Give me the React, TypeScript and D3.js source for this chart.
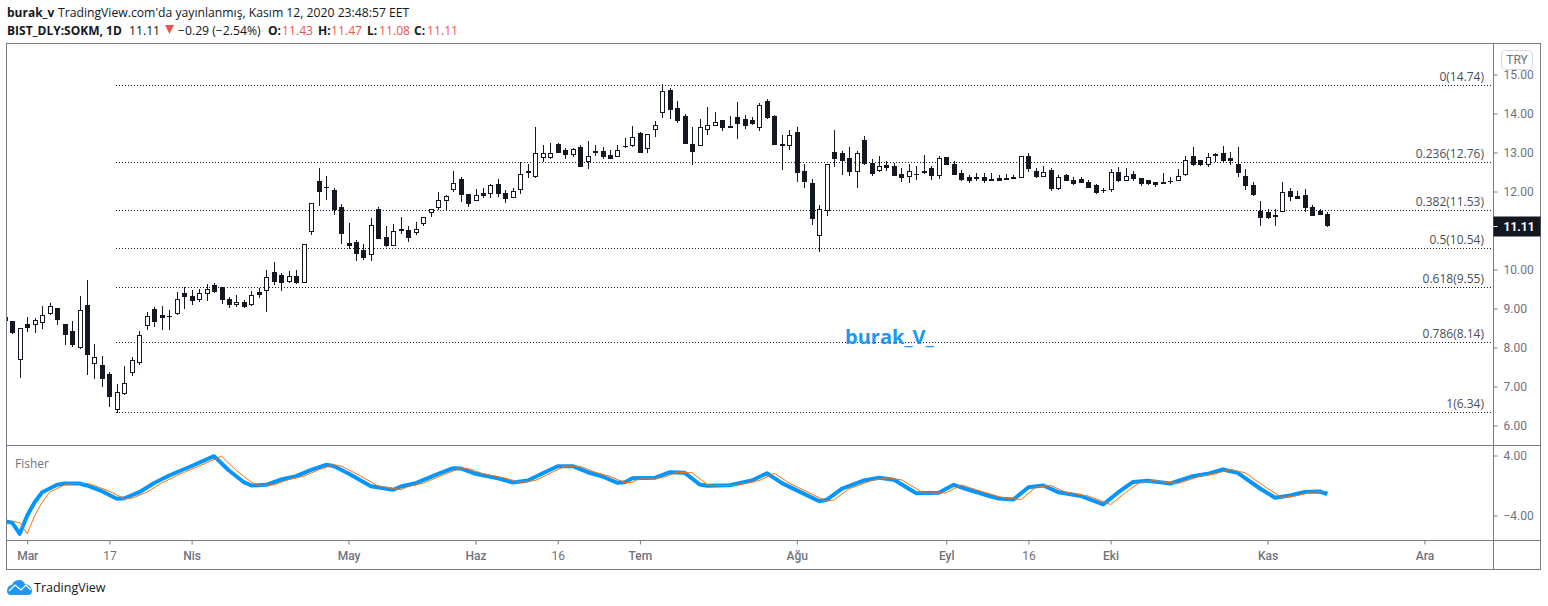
import React, { useEffect, useRef } from 'react';
import * as d3 from 'd3';

const WIDTH = 1548;
const HEIGHT = 606;

// daily bars, first one is cut by the left border
const opens = [
  8.79, 8.68, 7.70, 8.60, 8.61, 8.66, 8.89, 9.01, 8.60, 8.42, 8.02, 9.09, 7.59, 7.55, 7.32, 6.43, 6.84, 7.38, 7.64, 8.57,
  8.99, 8.83, 8.81, 8.89, 9.40, 9.32, 9.25, 9.41, 9.60, 9.55, 9.24, 9.11, 9.17, 9.12, 9.42, 9.48, 9.94, 9.86, 9.71, 9.83,
  9.69, 10.99, 12.27, 12.12, 12.04, 11.60, 10.68, 10.71, 10.50, 10.40, 11.55, 10.83, 10.63, 11.04, 11.01, 10.97, 11.20, 11.48, 11.59, 11.77,
  12.07, 12.32, 11.94, 11.77, 11.96, 11.97, 12.19, 11.96, 11.87, 12.07, 12.53, 12.41, 12.89, 12.89, 13.22, 13.06, 12.97, 13.14, 12.77, 13.04,
  13.04, 12.94, 12.92, 13.17, 13.18, 13.50, 13.12, 13.59, 14.05, 14.60, 14.14, 13.94, 13.22, 13.20, 13.59, 13.71, 13.83, 13.68, 13.91, 13.86,
  13.83, 13.66, 14.32, 13.94, 13.22, 13.18, 13.53, 12.53, 12.22, 10.89, 11.53, 13.01, 12.99, 12.86, 12.53, 13.32, 12.73, 12.56, 12.68, 12.65,
  12.45, 12.41, 12.45, 12.53, 12.60, 12.43, 12.89, 12.71, 12.47, 12.37, 12.37, 12.37, 12.32, 12.35, 12.35, 12.37, 12.38, 12.91, 12.53, 12.41,
  12.55, 12.09, 12.42, 12.30, 12.32, 12.24, 12.17, 12.04, 12.07, 12.50, 12.30, 12.45, 12.35, 12.30, 12.24, 12.24, 12.27, 12.30, 12.46, 12.91,
  12.81, 12.71, 12.96, 12.99, 12.86, 12.71, 12.40, 12.17, 11.50, 11.47, 11.40, 11.51, 12.01, 11.88, 11.91, 11.60, 11.50, 11.43,
];
const highs = [
  8.82, 8.68, 8.49, 8.78, 8.76, 9.07, 9.13, 9.01, 8.60, 8.68, 9.32, 9.73, 8.09, 7.78, 7.37, 7.07, 7.53, 7.76, 8.42, 8.91,
  9.04, 9.07, 8.96, 9.42, 9.55, 9.47, 9.49, 9.63, 9.65, 9.55, 9.30, 9.35, 9.22, 9.45, 9.53, 9.99, 10.19, 9.91, 9.96, 9.99,
  10.65, 11.70, 12.60, 12.40, 12.09, 11.68, 11.19, 10.76, 10.65, 11.32, 11.60, 11.12, 11.17, 11.35, 11.12, 11.22, 11.34, 11.54, 11.99, 11.91,
  12.53, 12.37, 11.94, 12.06, 12.09, 12.19, 12.32, 12.04, 12.09, 12.76, 12.71, 13.65, 13.19, 13.24, 13.24, 13.12, 13.12, 13.19, 13.30, 13.19,
  13.14, 13.06, 13.19, 13.37, 13.68, 13.53, 13.47, 13.81, 14.76, 14.65, 14.32, 13.99, 13.65, 13.86, 14.17, 14.04, 13.83, 13.94, 14.30, 13.96,
  13.91, 14.27, 14.37, 13.96, 13.45, 13.58, 13.65, 12.71, 12.32, 11.65, 12.70, 13.58, 13.04, 13.14, 13.04, 13.42, 12.83, 12.91, 12.78, 12.73,
  12.60, 12.71, 12.65, 12.94, 12.65, 12.91, 12.89, 12.78, 12.55, 12.42, 12.47, 12.47, 12.47, 12.42, 12.45, 12.42, 12.90, 12.99, 12.60, 12.65,
  12.60, 12.42, 12.45, 12.37, 12.37, 12.30, 12.19, 12.09, 12.58, 12.63, 12.60, 12.53, 12.35, 12.30, 12.24, 12.47, 12.37, 12.58, 12.91, 13.14,
  12.81, 12.99, 12.99, 13.17, 13.01, 13.14, 12.58, 12.24, 11.76, 11.55, 11.55, 12.24, 12.09, 12.01, 12.06, 11.65, 11.55, 11.47,
];
const lows = [
  8.66, 8.35, 7.22, 8.40, 8.37, 8.47, 8.83, 8.58, 8.07, 8.01, 7.96, 7.30, 7.19, 6.99, 6.47, 6.32, 6.78, 7.27, 7.55, 8.45,
  8.53, 8.45, 8.45, 8.83, 8.99, 9.09, 9.17, 9.19, 9.40, 9.12, 9.01, 9.04, 9.01, 9.07, 9.27, 8.91, 9.60, 9.45, 9.65, 9.63,
  9.65, 10.88, 11.63, 11.78, 11.40, 10.65, 10.53, 10.22, 10.24, 10.22, 10.78, 10.58, 10.60, 10.91, 10.71, 10.89, 11.12, 11.35, 11.53, 11.53,
  11.99, 11.73, 11.60, 11.77, 11.83, 11.83, 11.86, 11.70, 11.87, 11.94, 12.35, 12.35, 12.76, 12.83, 12.99, 12.83, 12.89, 12.63, 12.58, 12.91,
  12.83, 12.83, 12.89, 13.12, 13.14, 12.99, 12.99, 13.40, 13.88, 13.86, 13.76, 13.22, 12.68, 13.20, 13.45, 13.71, 13.55, 13.63, 13.35, 13.60,
  13.70, 13.55, 13.86, 13.19, 12.55, 13.06, 12.24, 12.09, 11.14, 10.45, 11.37, 12.63, 12.42, 12.40, 12.09, 12.68, 12.40, 12.50, 12.53, 12.40,
  12.24, 12.22, 12.30, 12.45, 12.30, 12.32, 12.68, 12.42, 12.27, 12.22, 12.27, 12.22, 12.27, 12.27, 12.30, 12.32, 12.35, 12.50, 12.35, 12.37,
  12.01, 12.04, 12.27, 12.17, 12.22, 12.09, 11.94, 11.96, 11.99, 12.24, 12.30, 12.27, 12.14, 12.17, 12.12, 12.19, 12.19, 12.30, 12.40, 12.65,
  12.65, 12.63, 12.76, 12.76, 12.68, 12.37, 12.04, 11.88, 11.12, 11.30, 11.12, 11.51, 11.76, 11.81, 11.47, 11.37, 11.40, 11.08,
];
const closes = [
  8.68, 8.38, 8.49, 8.50, 8.70, 8.83, 9.06, 8.71, 8.32, 8.07, 8.95, 7.81, 7.75, 7.19, 6.73, 6.85, 7.08, 7.67, 8.31, 8.80,
  8.65, 8.76, 8.79, 9.24, 9.30, 9.19, 9.41, 9.49, 9.42, 9.22, 9.09, 9.16, 9.04, 9.34, 9.35, 9.80, 9.68, 9.65, 9.83, 9.65,
  10.65, 11.70, 11.99, 12.09, 11.53, 10.91, 10.60, 10.40, 10.30, 11.13, 10.78, 10.60, 11.00, 10.99, 10.81, 11.03, 11.34, 11.54, 11.77, 11.88,
  12.21, 11.91, 11.68, 11.90, 11.88, 12.16, 11.94, 11.81, 12.01, 12.44, 12.47, 13.00, 12.98, 13.00, 12.99, 12.94, 13.08, 12.63, 12.90, 12.99,
  12.89, 12.83, 13.06, 13.14, 13.41, 12.99, 13.47, 13.70, 14.57, 14.09, 13.81, 13.22, 13.01, 13.65, 13.70, 13.77, 13.63, 13.63, 13.73, 13.68,
  13.73, 14.21, 13.88, 13.19, 13.17, 13.44, 12.47, 12.24, 11.30, 11.54, 12.70, 12.83, 12.78, 12.50, 13.00, 12.71, 12.45, 12.65, 12.60, 12.40,
  12.35, 12.52, 12.42, 12.47, 12.40, 12.85, 12.68, 12.42, 12.30, 12.27, 12.32, 12.27, 12.27, 12.27, 12.30, 12.32, 12.90, 12.58, 12.37, 12.49,
  12.06, 12.36, 12.27, 12.19, 12.22, 12.09, 11.96, 12.01, 12.49, 12.27, 12.39, 12.32, 12.19, 12.19, 12.17, 12.19, 12.24, 12.39, 12.80, 12.68,
  12.68, 12.88, 12.91, 12.78, 12.78, 12.47, 12.14, 11.91, 11.32, 11.32, 11.35, 12.00, 11.86, 11.81, 11.58, 11.37, 11.40, 11.11,
];

// Fisher line at the bars where it turns, the trigger is the same line one bar later
const fisherBars = [
  0, 1, 2, 3, 4, 5, 7, 8, 10, 11, 13, 15, 16, 18, 20, 22, 25, 28, 30, 32, 33, 35, 37, 39, 41, 43, 44, 46, 49, 52, 53, 55, 58, 60, 61, 63,
  66, 68, 70, 72, 74, 76, 78, 80, 82, 83, 84, 87, 89, 91, 93, 94, 97, 100, 102, 104, 109, 110, 112, 115, 117, 119, 122, 125, 127, 129, 132,
  133, 135, 137, 139, 141, 144, 147, 149, 151, 153, 156, 159, 161, 163, 165, 168, 170, 172, 174, 176, 177,
];
const fisherValues = [
  -4.76, -4.97, -6.44, -4.0, -2.23, -0.89, 0.09, 0.27, 0.27, 0, -0.76, -1.77, -1.7, -0.89, 0.33, 1.33, 2.6, 3.91, 2.0, 0.44, 0, 0.09, 0.8, 1.24, 2.09, 2.76, 2.6, 1.6, -0.09, -0.57, -0.13, 0.31, 1.56, 2.31, 2.27, 1.56,
  0.97, 0.4, 0.67, 1.64, 2.57, 2.57, 1.77, 1.2, 0.36, 0.44, 0.97, 1.03, 1.77, 1.69, 0.13, -0.04, 0.04, 0.67, 1.64, 0.31, -2.09, -1.91, -0.44, 0.67, 1.03, 0.76, -1.03, -0.97, 0.09, -0.57, -1.47,
  -1.73, -1.87, -0.23, 0, -0.89, -1.4, -2.53, -0.93, 0.47, 0.63, 0.27, 1.24, 1.56, 2.13, 1.69, -0.4, -1.64, -1.33, -0.87, -0.8, -1.16,
];

const fibRatios = ['0', '0.236', '0.382', '0.5', '0.618', '0.786', '1'];
const fibPrices = [14.74, 12.76, 11.53, 10.54, 9.55, 8.14, 6.34];

const priceTicks = [15, 14, 13, 12, 10, 9, 8, 7, 6];
const fisherTicks = [4, -4];
const timeTickBars = [3, 14, 25, 46, 63, 74, 85, 106, 126, 137, 148, 169, 190];
const timeTickLabels = ['Mar', '17', 'Nis', 'May', 'Haz', '16', 'Tem', 'Ağu', 'Eyl', '16', 'Eki', 'Kas', 'Ara'];

const lastPrice = 11.11;

const DARK = '#131722';
const BORDER = '#787b86';
const AXIS_TEXT = '#6f727d';
const RED = '#ef5350';
const BLUE = '#0496ff';
const ORANGE = '#ff6d00';
const FONT = '"Open Sans", sans-serif';
const AXIS_FONT = 'Roboto, sans-serif';

const App: React.FC = () => {
  const svgRef = useRef<SVGSVGElement | null>(null);

  useEffect(() => {
    if (!svgRef.current) return;
    const svg = d3.select(svgRef.current);
    svg.selectAll('*').remove();

    const left = 6.5;
    const axisX = 1493.5;
    const right = 1540.5;
    const top = 43.5;
    const paneSplit = 445.5;
    const paneBottom = 540.5;
    const bottom = 569.5;

    const x = d3.scaleLinear().domain([1, 177]).range([12.3, 1327.3]);
    const y = d3.scaleLinear().domain([15, 6]).range([74.5, 425.5]);
    const yFisher = d3.scaleLinear().domain([4, -4]).range([455.5, 515.5]);

    svg.append('rect').attr('width', WIDTH).attr('height', HEIGHT).attr('fill', '#fff');

    const defs = svg.append('defs');
    defs.append('clipPath').attr('id', 'main-clip').append('rect')
      .attr('x', left).attr('y', top).attr('width', axisX - left).attr('height', paneSplit - top);
    defs.append('clipPath').attr('id', 'fisher-clip').append('rect')
      .attr('x', left).attr('y', paneSplit).attr('width', axisX - left).attr('height', paneBottom - paneSplit);

    // fib levels
    const fib = svg.append('g');
    fibPrices.forEach((p, i) => {
      const ly = Math.round(y(p)) + 0.5;
      fib.append('line')
        .attr('x1', 116).attr('x2', 1491).attr('y1', ly).attr('y2', ly)
        .attr('stroke', DARK).attr('stroke-width', 1).attr('stroke-dasharray', '1,2');
      fib.append('text')
        .attr('x', 1484).attr('y', ly - 4.5)
        .attr('text-anchor', 'end')
        .attr('font-family', FONT).attr('font-size', 12).attr('fill', '#4a4e5a')
        .text(`${fibRatios[i]}(${p.toFixed(2)})`);
    });

    // candles
    const candles = svg.append('g').attr('clip-path', 'url(#main-clip)');
    opens.forEach((open, i) => {
      const close = closes[i];
      const cx = Math.round(x(i));
      const yTop = Math.round(y(Math.max(open, close)));
      const yBot = Math.round(y(Math.min(open, close)));
      const up = close > open;
      candles.append('rect')
        .attr('x', cx).attr('width', 1)
        .attr('y', Math.round(y(highs[i])))
        .attr('height', Math.max(1, Math.round(y(lows[i])) - Math.round(y(highs[i]))))
        .attr('fill', DARK);
      if (up) {
        candles.append('rect')
          .attr('x', cx - 1.5).attr('width', 4)
          .attr('y', yTop + 0.5).attr('height', Math.max(1, yBot - yTop))
          .attr('fill', '#fff').attr('stroke', DARK).attr('stroke-width', 1);
      } else {
        candles.append('rect')
          .attr('x', cx - 2).attr('width', 5)
          .attr('y', yTop).attr('height', Math.max(1, yBot - yTop))
          .attr('fill', DARK);
      }
    });

    // watermark
    svg.append('text')
      .attr('x', 845).attr('y', 344)
      .attr('font-family', FONT).attr('font-size', 20).attr('font-weight', 700)
      .attr('fill', '#2196f3')
      .text('burak_V_');

    // fisher pane
    const fisherLine = (shift: number) => d3.line<number>()
      .x((b) => x(b + shift))
      .y((_, i) => yFisher(fisherValues[i]));

    const fisherPane = svg.append('g').attr('clip-path', 'url(#fisher-clip)');
    fisherPane.append('path')
      .attr('d', fisherLine(0)(fisherBars))
      .attr('fill', 'none').attr('stroke', BLUE).attr('stroke-width', 4).attr('stroke-linejoin', 'round');
    fisherPane.append('path')
      .attr('d', fisherLine(1)(fisherBars.slice(0, -1)))
      .attr('fill', 'none').attr('stroke', ORANGE).attr('stroke-width', 1);

    svg.append('text')
      .attr('x', 15).attr('y', 467.5)
      .attr('font-family', FONT).attr('font-size', 12).attr('fill', AXIS_TEXT)
      .text('Fisher');

    // axes
    const styleAxis = (g: d3.Selection<SVGGElement, unknown, null, undefined>) => {
      g.select('.domain').remove();
      g.selectAll('line').attr('stroke', BORDER);
      g.selectAll('text').attr('fill', AXIS_TEXT);
      g.attr('font-family', AXIS_FONT).attr('font-size', 12);
    };

    const priceAxis = svg.append('g').attr('transform', `translate(${axisX},0)`)
      .call(d3.axisRight(y).tickValues(priceTicks).tickSize(4).tickPadding(6).tickFormat((d) => (d as number).toFixed(2)));
    styleAxis(priceAxis);

    const fisherAxis = svg.append('g').attr('transform', `translate(${axisX},0)`)
      .call(d3.axisRight(yFisher).tickValues(fisherTicks).tickSize(4).tickPadding(6)
        .tickFormat((d) => ((d as number) < 0 ? '\u2212' : '') + Math.abs(d as number).toFixed(2)));
    styleAxis(fisherAxis);

    const timeAxis = svg.append('g').attr('transform', `translate(0,${paneBottom})`)
      .call(d3.axisBottom(x.copy().domain([1, 177])).tickValues(timeTickBars).tickSize(4).tickPadding(7)
        .tickFormat((_, i) => timeTickLabels[i]));
    styleAxis(timeAxis);
    timeAxis.selectAll<SVGTextElement, number>('text')
      .attr('font-weight', (_, i) => (/\d/.test(timeTickLabels[i]) ? 400 : 500));

    // frame
    const frame = svg.append('g').attr('stroke', BORDER).attr('fill', 'none').attr('stroke-width', 1);
    frame.append('rect').attr('x', left).attr('y', top).attr('width', right - left).attr('height', bottom - top);
    frame.append('line').attr('x1', axisX).attr('x2', axisX).attr('y1', top).attr('y2', bottom);
    frame.append('line').attr('x1', left).attr('x2', right).attr('y1', paneSplit).attr('y2', paneSplit);
    frame.append('line').attr('x1', left).attr('x2', right).attr('y1', paneBottom).attr('y2', paneBottom);

    // currency button
    svg.append('rect')
      .attr('x', 1501.5).attr('y', 50.5).attr('width', 31).attr('height', 19).attr('rx', 4)
      .attr('fill', '#fff').attr('fill-opacity', 0.85).attr('stroke', '#d6d8e0');
    svg.append('text')
      .attr('x', 1517).attr('y', 64).attr('text-anchor', 'middle')
      .attr('font-family', AXIS_FONT).attr('font-size', 12).attr('fill', AXIS_TEXT)
      .text('TRY');

    // last price tag
    const tagY = y(lastPrice);
    svg.append('rect')
      .attr('x', axisX).attr('y', Math.round(tagY) - 9.5).attr('width', right - axisX).attr('height', 20)
      .attr('fill', DARK);
    svg.append('text')
      .attr('x', axisX + 10).attr('y', tagY + 4.5)
      .attr('font-family', AXIS_FONT).attr('font-size', 12).attr('font-weight', 700).attr('fill', '#fff')
      .text(lastPrice.toFixed(2));
    svg.append('line')
      .attr('x1', axisX).attr('x2', axisX + 4).attr('y1', Math.round(tagY) + 0.5).attr('y2', Math.round(tagY) + 0.5)
      .attr('stroke', '#fff');

    // header
    const label = (tx: number, ty: number, text: string, fill: string, weight = 400) => {
      svg.append('text')
        .attr('x', tx).attr('y', ty)
        .attr('font-family', FONT).attr('font-size', weight === 700 ? 12 : 12.2).attr('font-weight', weight).attr('fill', fill)
        .text(text);
    };
    label(7, 16.5, 'burak_v', DARK, 700);
    label(58, 16.5, "TradingView.com'da yayınlanmış, Kasım 12, 2020 23:48:57 EET", DARK);
    label(7, 34.5, 'BIST_DLY:SOKM, 1D', DARK, 700);
    label(129, 34.5, '11.11', DARK);
    svg.append('path')
      .attr('d', d3.line()([[165, 25], [174, 25], [169.5, 34]]) + 'Z')
      .attr('fill', RED);
    label(178, 34.5, '\u22120.29 (\u22122.54%)', DARK);
    label(268, 34.5, 'O:', DARK, 700);
    label(282, 34.5, '11.43', RED);
    label(318, 34.5, 'H:', DARK, 700);
    label(331, 34.5, '11.47', RED);
    label(367, 34.5, 'L:', DARK, 700);
    label(379, 34.5, '11.08', RED);
    label(414, 34.5, 'C:', DARK, 700);
    label(427, 34.5, '11.11', RED);

    // footer logo
    const logo = svg.append('g').attr('fill', '#2196f3');
    logo.append('path')
      .attr('d', 'M7,591 C7,587 10,585 12,585 C13,581 17,580 19,580 C22,580 24,582 25,584 C28,584 32,587 32,591 C32,594 30,595 28,595 L11,595 C8,595 7,593 7,591 Z');
    logo.append('path')
      .attr('d', 'M9,591 L15,585 L21,590 L26,585 L31,590')
      .attr('fill', 'none').attr('stroke', '#fff').attr('stroke-width', 1.2);
    svg.append('text')
      .attr('x', 34).attr('y', 592)
      .attr('font-family', FONT).attr('font-size', 12.5).attr('fill', DARK)
      .text('TradingView');
  }, []);

  return (
    <svg
      ref={svgRef}
      width={WIDTH}
      height={HEIGHT}
      style={{ position: 'absolute', left: 0, top: 0, display: 'block' }}
    />
  );
};

export default App;
